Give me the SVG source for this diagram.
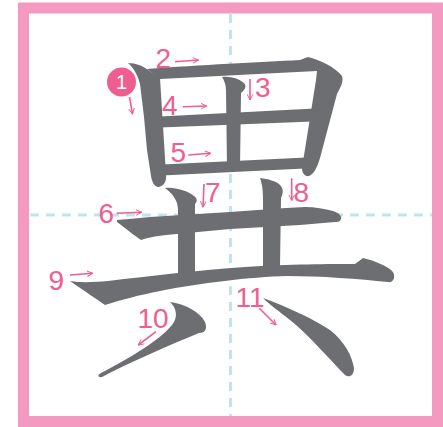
<svg xmlns="http://www.w3.org/2000/svg" width="443" height="427" viewBox="0 0 443 427">
<defs>
<style>
.guide{stroke:#BDE5EE;stroke-width:3;stroke-dasharray:9 7;fill:none}
.frame{fill:#fff;stroke:#F49AC1;stroke-width:11}
.st{fill:#6D6E71}
.num{font-family:"Liberation Sans",Arial,sans-serif;font-size:28px;fill:#EE5E8F}
.arr{stroke:#EE5E8F;stroke-width:1.6;fill:none;marker-end:url(#ah)}
</style>
<marker id="ah" viewBox="0 0 10 10" refX="9" refY="5" markerWidth="7" markerHeight="7" orient="auto" markerUnits="userSpaceOnUse">
<path d="M1,1 L9,5 L1,9" fill="none" stroke="#EE5E8F" stroke-width="1.4"/>
</marker>
</defs>
<rect class="frame" x="23.5" y="8" width="414" height="413.5"/>
<g id="guides">
<line class="guide" x1="230.5" y1="14" x2="230.5" y2="416"/>
<line class="guide" x1="30" y1="215" x2="432" y2="215"/>
</g>
<g id="stroke1"><path class="st" d="M128,63 C136,63 143,66 148,70 L160,78 L166,174 C167,182 163,187 158,187 C154,186 152,182 151,176 L147,150 L144,117 L140,84 C138,76 134,68 128,63 Z"/></g>
<g id="stroke2"><path class="st" d="M147,69 C200,65 260,62 300,60 L308,57 C320,60 335,67 342,76 C344,82 340,88 337,94 L320,158 C317,168 314,174 309,176 C305,177 302,173 302,168 L316,80 L317,71 L160,79 Z"/></g>
<g id="stroke3"><path class="st" d="M222,77 C230,76 238,78 244,83 C247,86 245,90 241,93 L240,168 L227,168 L226,90 C226,85 224,80 222,77 Z"/></g>
<g id="stroke4"><path class="st" d="M160,116.5 L315,108.5 L313,121.5 L160,127.5 Z"/></g>
<g id="stroke5"><path class="st" d="M162,164.5 L306,157.5 L305,168.5 L162,175.5 Z"/></g>
<g id="stroke6"><path class="st" d="M117,220 C130,219 140,218 150,217 L230,212 L286,208 L305,207 C315,207 325,209 333,211 C339,213 342,216 341,219 C340,222 337,222 335,222 L300,225 L230,229 L166,235 C155,236 147,238 141,240 C135,236 125,228 117,222 Z"/></g>
<g id="stroke7"><path class="st" d="M165,188 C175,187 188,191 194,196 C198,199 197,202 195,204 L195,272 L178,274 L178,210 C178,200 172,193 165,188 Z"/></g>
<g id="stroke8"><path class="st" d="M260,178 C268,179 276,181 280,185 C284,189 283,194 281,198 L280,267 L263,267 L263,203 C263,195 263,186 260,178 Z"/></g>
<g id="stroke9"><path class="st" d="M70,281 C82,283 95,282 108,281 C150,276 200,270 245,267 C290,264 330,264 355,264 L363,258 C375,261 388,266 393,272 C396,278 393,283 388,282 C360,279 320,276 287,276 C250,277 200,283 160,291 C140,295 120,300 105,305 C95,298 80,288 70,281 Z"/></g>
<g id="stroke10"><path class="st" d="M170,302 C185,304 200,312 205,322 C208,330 204,333 199,333 C170,345 130,362 102,377 C98,378 97,375 101,373 C130,358 160,340 172,325 C178,318 177,308 170,302 Z"/></g>
<g id="stroke11"><path class="st" d="M263,298 C290,308 315,320 330,330 C345,342 352,356 354,368 C354,376 349,378 345,375 C330,360 310,336 290,320 C280,312 270,305 263,298 Z"/></g>
<g id="labels">
<g id="label1">
<circle cx="121.5" cy="82" r="14.5" fill="#EE5E8F"/>
<text x="121.5" y="89" text-anchor="middle" font-family="Liberation Sans, Arial, sans-serif" font-size="20" fill="#fff">1</text>
<line class="arr" x1="129.5" y1="97" x2="132.5" y2="114"/>
</g>
<g id="label2"><text class="num" x="155.5" y="68">2</text><line class="arr" x1="175" y1="61.7" x2="198.5" y2="60"/></g>
<g id="label3"><line class="arr" x1="250" y1="79" x2="250" y2="100"/><text class="num" x="255" y="96.5">3</text></g>
<g id="label4"><text class="num" x="162" y="115">4</text><line class="arr" x1="182.7" y1="106.7" x2="206.7" y2="106"/></g>
<g id="label5"><text class="num" x="170.5" y="161.5">5</text><line class="arr" x1="188.3" y1="155" x2="210.7" y2="153.3"/></g>
<g id="label6"><text class="num" x="98.5" y="223.3">6</text><line class="arr" x1="116.7" y1="213.3" x2="141.7" y2="212.3"/></g>
<g id="label7"><line class="arr" x1="204" y1="184" x2="203" y2="207"/><text class="num" x="205" y="202">7</text></g>
<g id="label8"><line class="arr" x1="291.7" y1="178.3" x2="291.7" y2="200.5"/><text class="num" x="293.5" y="201.7">8</text></g>
<g id="label9"><text class="num" x="48.5" y="290">9</text><line class="arr" x1="70" y1="275" x2="92.7" y2="273.3"/></g>
<g id="label10"><text class="num" x="137.5" y="328.3">10</text><line class="arr" x1="156" y1="331.7" x2="138.3" y2="345"/></g>
<g id="label11"><text class="num" x="235.5" y="306.7">11</text><line class="arr" x1="259.3" y1="308.3" x2="276" y2="325"/></g>
</g>
</svg>
